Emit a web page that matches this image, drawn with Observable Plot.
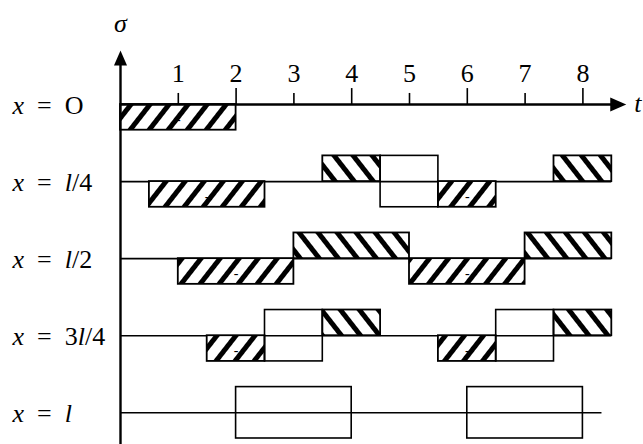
<!DOCTYPE html>
<html><head><meta charset="utf-8">
<script src="https://cdn.jsdelivr.net/npm/d3@7"></script>
<script src="https://cdn.jsdelivr.net/npm/@observablehq/plot@0.6"></script>
<style>
body{margin:0;background:#fff}
svg text{font-family:"Liberation Serif","Times New Roman",serif !important;}
</style>
</head><body><div id="chart"></div>
<script>
// Rows (position along the member) and their labels
const rowLabels = ["O", "l/4", "l/2", "3l/4", "l"];
const rowLineEnd = [null, 8.5, 8.5, 8.5, 8.33];

// Stress blocks: row index, start time, end time, sign (-1 below, +1 above, 0 = open block both sides)
const segRow   = [0,   1,   1,   1,   1,   1,   2, 2, 2, 2,   3,   3,   3,   3,   3,   3,   4, 4];
const segStart = [0,   0.5, 3.5, 4.5, 5.5, 7.5, 1, 3, 5, 7,   1.5, 2.5, 3.5, 5.5, 6.5, 7.5, 2, 6];
const segEnd   = [2,   2.5, 4.5, 5.5, 6.5, 8.5, 3, 5, 7, 8.5, 2.5, 3.5, 4.5, 6.5, 7.5, 8.5, 4, 8];
const segSign  = [-1, -1,   1,   0,  -1,   1,  -1, 1,-1, 1,  -1,   0,   1,  -1,   0,   1,   0, 0];

// Time axis ticks
const tickValues = [1, 2, 3, 4, 5, 6, 7, 8];
const tickLabels = ["1", "2", "3", "4", "5", "6", "7", "8"];

const ROW_GAP = 3;
const T_END = 8.75;
const SIGMA_TOP = 2.1;
const SIGMA_BOTTOM = -13.4;
const base = r => -ROW_GAP * r;
const FONT = "Liberation Serif";

const segments = segRow.map((r, i) => ({row: r, t1: segStart[i], t2: segEnd[i], sign: segSign[i]}));
const rowsData = rowLabels.map((lab, i) => ({row: i, label: "x\u2002=\u2002" + lab, end: rowLineEnd[i]}));

const arrowUp = {draw(ctx) { ctx.moveTo(0, 0); ctx.lineTo(-6.5, 15); ctx.lineTo(6.5, 15); ctx.closePath(); }};
const arrowRight = {draw(ctx) { ctx.moveTo(0, 0); ctx.lineTo(-16, -7); ctx.lineTo(-16, 7); ctx.closePath(); }};

const chart = Plot.plot({
  width: 643,
  height: 444,
  margin: 0,
  x: {domain: [0, 8], range: [120, 582.4], axis: null},
  y: {domain: [0, -12], range: [104, 412.3], axis: null},
  style: {fontFamily: FONT, fontSize: "26px", background: "white", overflow: "visible", color: "black"},
  marks: [
    Plot.ruleY(rowsData.filter(d => d.end != null), {y: d => base(d.row), x1: 0, x2: "end", stroke: "black", strokeWidth: 1.6}),
    Plot.rect(segments.filter(d => d.sign < 0), {x1: "t1", x2: "t2", y1: d => base(d.row), y2: d => base(d.row) - 1, fill: "url(#hatchNeg)", stroke: "black", strokeWidth: 1.8}),
    Plot.rect(segments.filter(d => d.sign > 0), {x1: "t1", x2: "t2", y1: d => base(d.row), y2: d => base(d.row) + 1, fill: "url(#hatchPos)", stroke: "black", strokeWidth: 1.8}),
    Plot.rect(segments.filter(d => d.sign === 0), {x1: "t1", x2: "t2", y1: d => base(d.row) - 1, y2: d => base(d.row) + 1, fill: "none", stroke: "black", strokeWidth: 1.6}),
    Plot.text(segments.filter(d => d.sign < 0), {x: d => (d.t1 + d.t2) / 2, y: d => base(d.row) - 0.5, text: () => "-", fontFamily: FONT, fontSize: 14, dy: 2, fill: "black"}),
    Plot.ruleY([0], {x1: 0, x2: T_END - 0.2, stroke: "black", strokeWidth: 2.4}),
    Plot.ruleX([0], {y1: SIGMA_BOTTOM, y2: SIGMA_TOP - 0.3, stroke: "black", strokeWidth: 2.4}),
    Plot.ruleX(tickValues, {x: d => d, y1: 0, y2: d => d % 2 === 0 ? 0.62 : 0.43, stroke: "black", strokeWidth: 1.6}),
    Plot.text(tickValues, {x: d => d, y: 0, text: (d, i) => tickLabels[i], dy: -31, fontFamily: FONT, fontSize: 26, fill: "black"}),
    Plot.dot([{t: 0, y: SIGMA_TOP}], {x: "t", y: "y", symbol: arrowUp, fill: "black", stroke: "none"}),
    Plot.dot([{t: T_END, y: 0}], {x: "t", y: "y", symbol: arrowRight, fill: "black", stroke: "none"}),
    Plot.text([{t: 0, y: SIGMA_TOP}], {x: "t", y: "y", text: () => "σ", dy: -27, fontStyle: "italic", fontFamily: FONT, fontSize: 26, fill: "black"}),
    Plot.text([{t: T_END, y: 0}], {x: "t", y: "y", text: () => "t", textAnchor: "start", dx: 8, dy: -1, fontStyle: "italic", fontFamily: FONT, fontSize: 26, fill: "black"}),
    Plot.text(rowsData, {y: d => base(d.row), text: "label", frameAnchor: "left", textAnchor: "start", dx: 12, dy: 1, fontFamily: FONT, fontSize: 26, fill: "black"})
  ]
});

// Hatch patterns
const svg = d3.select(chart.tagName.toLowerCase() === "svg" ? chart : chart.querySelector("svg"));
const defs = svg.insert("defs", ":first-child");
[["hatchNeg", 38], ["hatchPos", -38]].forEach(([id, ang]) => {
  const p = defs.append("pattern").attr("id", id).attr("patternUnits", "userSpaceOnUse")
    .attr("width", 15).attr("height", 15).attr("patternTransform", `rotate(${ang})`);
  p.append("rect").attr("width", 15).attr("height", 15).attr("fill", "white");
  p.append("rect").attr("width", 5).attr("height", 15).attr("fill", "black");
});

// Italicize variable names in row labels
svg.selectAll("text").each(function() {
  const s = this.textContent;
  if (s.startsWith("x\u2002")) {
    this.textContent = "";
    for (const ch of s) {
      const ts = document.createElementNS("http://www.w3.org/2000/svg", "tspan");
      ts.textContent = ch;
      if (ch === "x" || ch === "l") ts.setAttribute("font-style", "italic");
      this.appendChild(ts);
    }
  }
});

document.getElementById("chart").appendChild(chart);
</script>
</body></html>
